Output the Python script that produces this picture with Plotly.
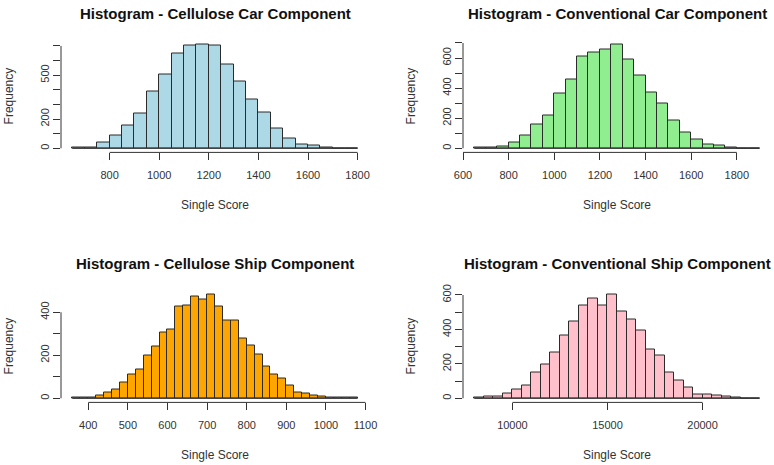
import plotly.graph_objects as go

W, H = 774, 465

# ---------------- data ----------------
titles = ["Histogram - Cellulose Car Component",
          "Histogram - Conventional Car Component",
          "Histogram - Cellulose Ship Component",
          "Histogram - Conventional Ship Component"]

# bin start, bin width, counts
cell_car_start, cell_car_width = 650, 50
cell_car_counts = [3, 3, 36, 87, 157, 237, 385, 506, 650, 705, 709, 705, 575, 458,
                   337, 242, 135, 68, 25, 18, 5, 0, 0]

conv_car_start, conv_car_width = 650, 50
conv_car_counts = [3, 3, 11, 40, 84, 160, 221, 365, 458, 613, 638, 657, 689, 593,
                   483, 372, 297, 186, 104, 55, 27, 20, 5, 0, 0]

cell_ship_start, cell_ship_width = 360, 20
cell_ship_counts = [3, 3, 3, 14, 25, 39, 73, 112, 135, 200, 242, 307, 321, 429, 433,
                    473, 460, 482, 429, 363, 363, 278, 247, 203, 150, 112, 91, 59,
                    29, 20, 14, 9, 5, 3, 3, 3]

conv_ship_start, conv_ship_width = 8000, 500
conv_ship_counts = [4, 10, 12, 27, 48, 75, 151, 194, 265, 362, 445, 540, 581, 540,
                    602, 503, 455, 391, 283, 250, 149, 103, 64, 21, 21, 17, 8, 2, 0, 0]

x_ticks = [[800, 1000, 1200, 1400, 1600, 1800],
           [600, 800, 1000, 1200, 1400, 1600, 1800],
           [400, 500, 600, 700, 800, 900, 1000, 1100],
           [10000, 15000, 20000]]
y_ticks = [[0, 100, 200, 300, 400, 500, 600, 700],
           [0, 100, 200, 300, 400, 500, 600, 700],
           [0, 100, 200, 300, 400],
           [0, 100, 200, 300, 400, 500, 600]]
y_labels_shown = [[0, 200, 500], [0, 200, 400, 600], [0, 200, 400], [0, 200, 400, 600]]

colors = ["#ADD8E6", "#90EE90", "#FFA500", "#FFC0CB"]

series = [(cell_car_start, cell_car_width, cell_car_counts),
          (conv_car_start, conv_car_width, conv_car_counts),
          (cell_ship_start, cell_ship_width, cell_ship_counts),
          (conv_ship_start, conv_ship_width, conv_ship_counts)]

# ---------------- layout geometry (pixels) ----------------
cols = [(61, 369), (463, 771)]
rows = [(40.5, 152.4), (290.5, 402.4)]

FONT = "Liberation Sans, Arial, sans-serif"
AX = "#333333"
EDGE = "#2b2b2b"

fig = go.Figure()
annotations = []
shapes = []

for i, (start, width, counts) in enumerate(series):
    r, c = divmod(i, 2)
    x0p, x1p = cols[c]
    y0p, y1p = rows[r]
    pw, ph = x1p - x0p, y1p - y0p
    n = len(counts)
    centers = [start + width * (k + 0.5) for k in range(n)]
    xmin, xmax = start, start + width * n
    pad = (xmax - xmin) * 0.04
    ymax = max(counts)
    ypad = ymax * 0.04
    suffix = "" if i == 0 else str(i + 1)
    xa, ya = "x" + suffix, "y" + suffix

    # baseline of all bins (zero-height bins drawn as lines, as in R)
    fig.add_trace(go.Scatter(x=[xmin, xmax], y=[0, 0], mode="lines",
                             line=dict(color=EDGE, width=1.2),
                             xaxis=xa, yaxis=ya, showlegend=False, hoverinfo="skip"))
    fig.add_trace(go.Bar(x=centers, y=counts, width=[width] * n,
                         marker=dict(color=colors[i], line=dict(color=EDGE, width=1)),
                         xaxis=xa, yaxis=ya, showlegend=False, hoverinfo="x+y"))

    dom_x = [x0p / W, x1p / W]
    dom_y = [1 - y1p / H, 1 - y0p / H]
    fig.layout["xaxis" + suffix] = dict(
        domain=dom_x, range=[xmin - pad, xmax + pad], anchor=ya, automargin=False,
        tickvals=x_ticks[i], ticktext=[str(v) for v in x_ticks[i]],
        ticks="outside", ticklen=7, tickcolor=AX, tickwidth=1,
        showline=False, showgrid=False, zeroline=False,
        tickfont=dict(family=FONT, size=11, color=AX), ticklabelstandoff=5)
    fig.layout["yaxis" + suffix] = dict(
        domain=dom_y, range=[-ypad, ymax + ypad], anchor=xa, automargin=False,
        tickvals=y_ticks[i],
        ticktext=[str(v) if v in y_labels_shown[i] else "" for v in y_ticks[i]],
        ticks="outside", ticklen=7, tickcolor=AX, tickwidth=1, tickangle=-90,
        showline=False, showgrid=False, zeroline=False,
        tickfont=dict(family=FONT, size=11, color=AX), ticklabelstandoff=0)

    # R-style axis lines from first to last tick
    shapes.append(dict(type="line", xref=xa, yref=ya + " domain",
                       x0=x_ticks[i][0], x1=x_ticks[i][-1], y0=0, y1=0,
                       line=dict(color=AX, width=1)))
    shapes.append(dict(type="line", xref=xa + " domain", yref=ya,
                       x0=0, x1=0, y0=y_ticks[i][0], y1=y_ticks[i][-1],
                       line=dict(color=AX, width=1)))

    xd, yd = xa + " domain", ya + " domain"
    annotations.append(dict(text="<b>" + titles[i] + "</b>", x=0.5, y=1 + 27.5 / ph,
                            xref=xd, yref=yd, showarrow=False,
                            xanchor="center", yanchor="middle",
                            font=dict(family=FONT, size=15, color="#111111")))
    annotations.append(dict(text="Single Score", x=0.5, y=-53 / ph,
                            xref=xd, yref=yd, showarrow=False,
                            xanchor="center", yanchor="middle",
                            font=dict(family=FONT, size=12, color=AX)))
    annotations.append(dict(text="Frequency", x=-52 / pw, y=0.5,
                            xref=xd, yref=yd, showarrow=False, textangle=-90,
                            xanchor="center", yanchor="middle",
                            font=dict(family=FONT, size=12, color=AX)))

fig.update_layout(width=W, height=H,
                  margin=dict(l=0, r=0, t=0, b=0, pad=0, autoexpand=False),
                  paper_bgcolor="white", plot_bgcolor="white",
                  bargap=0, annotations=annotations, shapes=shapes,
                  font=dict(family=FONT))

fig.write_html("out.html")
